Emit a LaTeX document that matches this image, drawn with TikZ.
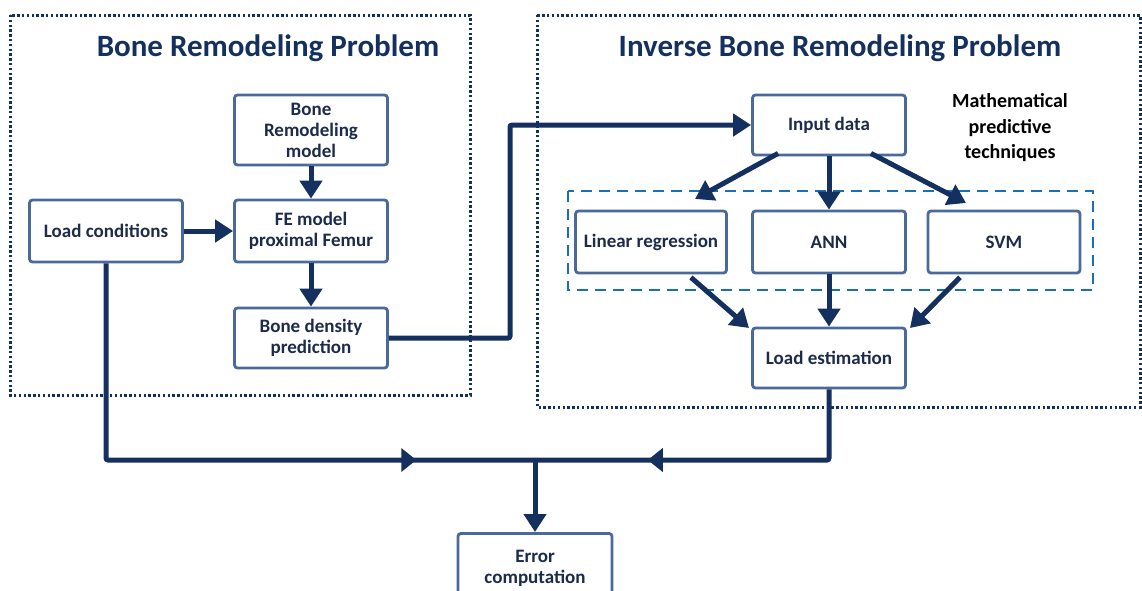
\documentclass[tikz,border=0pt]{standalone}
\usepackage{fontspec}
\setmainfont{Carlito}
\usetikzlibrary{arrows.meta,decorations.markings}
\definecolor{navy}{HTML}{14305E}
\definecolor{boxblue}{HTML}{4A6A9C}
\definecolor{dashblue}{HTML}{1B6FB5}
\definecolor{txt}{HTML}{1C2B4A}
\tikzset{
  blk/.style={draw=boxblue, line width=2.8pt, rounded corners=3pt, fill=white,
    minimum width=153pt, minimum height=62pt, align=center, text=txt,
    font=\fontsize{19}{21}\selectfont\bfseries, inner sep=1pt},
  conn/.style={draw=navy, line width=5pt, -{Triangle[width=22pt,length=18pt]}},
  plain/.style={draw=navy, line width=5pt},
  frame/.style={draw=navy, line width=3pt, dash pattern=on 2.4pt off 2.4pt},
  ttl/.style={text=navy, font=\fontsize{31}{34}\selectfont\bfseries},
  midarrow/.style={postaction={decorate}, decoration={markings,
    mark=at position #1 with {\arrow[navy]{Triangle[width=23pt,length=15pt]}}}}
}
\begin{document}
\begin{tikzpicture}[x=1pt,y=-1pt]
\useasboundingbox (0,0) rectangle (1142,590);
% frames
\draw[frame] (10,15) rectangle (470,395);
\draw[frame] (537,15) rectangle (1140,407);
\node[ttl] (t1) at (268,48) {Bone Remodeling Problem};
\node[ttl] (t2) at (840,48) {Inverse Bone Remodeling Problem};
% dashed group
\draw[draw=dashblue, line width=2.8pt, dash pattern=on 11pt off 7pt] (568,191) rectangle (1093,290);
% left boxes
\node[blk, minimum height=70pt] (brm) at (311,130) {Bone\\Remodeling\\model};
\node[blk] (fe) at (311,231) {FE model\\proximal Femur};
\node[blk] (lc) at (106,231) {Load conditions};
\node[blk, minimum height=60pt] (bd) at (311,338) {Bone density\\prediction};
% right boxes
\node[blk, minimum height=60pt] (in) at (829,125) {Input data};
\node[blk, minimum width=151pt] (lr) at (651,242) {Linear regression};
\node[blk] (ann) at (829,242) {ANN};
\node[blk, minimum width=152pt] (svm) at (1004,242) {SVM};
\node[blk, minimum height=60pt] (le) at (829,358) {Load estimation};
\node[blk, minimum width=154pt, minimum height=70pt, anchor=north] (err) at (535,532) {Error\\computation};
\node[text=black, align=center, font=\fontsize{20}{25.5}\selectfont\bfseries] (mpt) at (1010,128) {Mathematical\\predictive\\techniques};
% connectors
\coordinate (j) at (535,460);
\coordinate (bend) at (510,338);
\draw[conn] (brm) -- (fe);
\draw[conn] (lc) -- (fe);
\draw[conn] (fe) -- (bd);
\draw[conn, rounded corners=2pt] (bd.east) -- (bend) |- (in.west);
\draw[conn] (in.south west) ++(27,-3) coordinate (s1) -- (695,199) coordinate (e1);
\draw[conn] (in) -- (ann);
\draw[conn] (in.south east) ++(-36,-3) coordinate (s3) -- (966,203) coordinate (e3);
\draw[conn] (lr.south east) ++(-37,3) coordinate (s4) -- (749,328) coordinate (e4);
\draw[conn] (ann) -- (le);
\draw[conn] (svm.south) ++(-44,3) coordinate (s6) -- (910,328) coordinate (e6);
\draw[plain, midarrow=0.81, rounded corners=2pt] (lc.south) |- (j);
\draw[plain, midarrow=0.69, rounded corners=2pt] (le.south) |- (j);
\draw[conn] (j) -- (err.north);
\end{tikzpicture}
\end{document}
